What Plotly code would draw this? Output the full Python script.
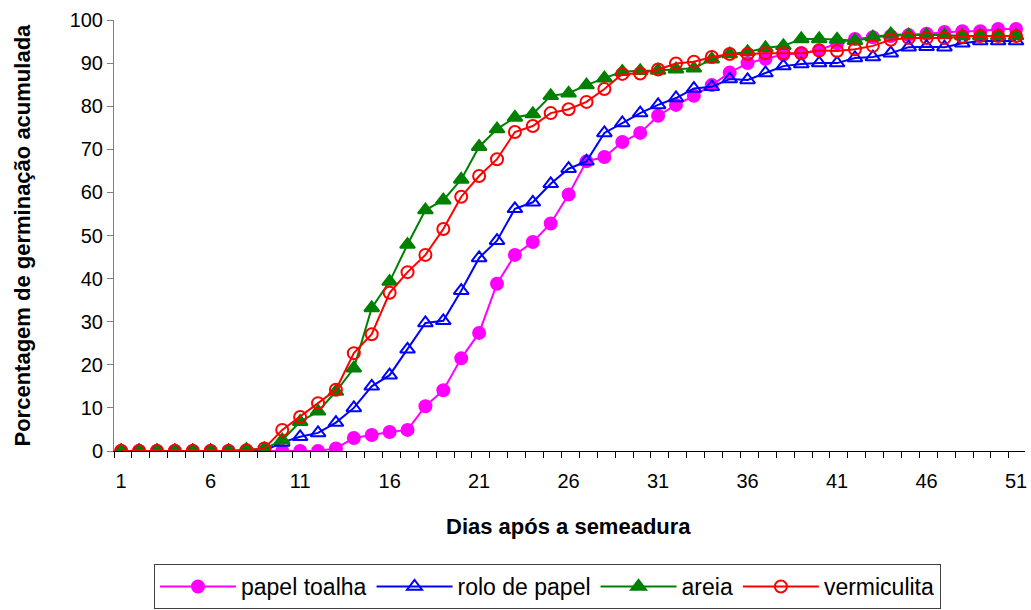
import numpy as np
import plotly.graph_objects as go

days = list(range(1, 52))

papel_toalha = [0, 0, 0, 0, 0, 0, 0, 0, 0, 0,
                0, 0, 0.6, 3, 3.7, 4.4, 4.9, 10.4, 14.1, 21.5,
                27.4, 38.8, 45.5, 48.5, 52.8, 59.5, 67.2, 68.2, 71.7, 73.8,
                77.8, 80.3, 82.4, 84.9, 87.8, 90, 91, 92, 92.3, 93,
                94.6, 95.6, 96, 96.3, 96.5, 96.8, 97.2, 97.4, 97.4, 97.9, 97.9]

rolo_de_papel = [0, 0, 0, 0, 0, 0, 0, 0, 0, 2,
                 3.3, 4.2, 6.6, 10, 15, 17.6, 23.6, 29.7, 30.2, 37.2,
                 44.8, 48.8, 56.2, 57.7, 62, 65.5, 67.2, 73.8, 76.1, 78.4,
                 80.3, 81.9, 84.1, 84.5, 86.3, 86.1, 87.7, 89.3, 89.8, 90,
                 90, 91.2, 91.4, 92.3, 93.7, 93.8, 93.7, 94.6, 95.1, 95.1, 95.1]

areia = [0, 0, 0, 0, 0, 0, 0, 0.3, 0.5, 2.5,
         6.8, 9.2, 13.8, 19.2, 33.2, 39.3, 47.9, 55.9, 58.2, 63,
         70.6, 74.7, 77.4, 78.2, 82.4, 83, 84.9, 86.5, 88, 88.2,
         88.3, 88.6, 88.8, 90.9, 92.1, 92.6, 93.5, 94, 95.6, 95.6,
         95.5, 95.2, 96, 96.7, 96.5, 96.5, 96.5, 96.3, 96.3, 96.3, 96.3]

vermiculita = [0, 0, 0, 0, 0, 0, 0, 0.2, 0.6, 4.9,
               7.9, 11.1, 14.2, 22.7, 27.1, 36.7, 41.5, 45.5, 51.5, 59,
               63.8, 67.7, 74, 75.4, 78.4, 79.3, 81, 84, 87.5, 87.6,
               88.5, 89.9, 90.3, 91.4, 92.1, 92.1, 92.3, 92.3, 92.3, 92.9,
               92.8, 93.2, 94, 95.4, 95.8, 95.8, 95.8, 96.1, 96.3, 96.3, 96.3]

x_ticks = [1, 6, 11, 16, 21, 26, 31, 36, 41, 46, 51]
y_ticks = [0, 10, 20, 30, 40, 50, 60, 70, 80, 90, 100]

FONT = "Liberation Sans, Arial, sans-serif"

fig = go.Figure()
series = [
    ("papel toalha", papel_toalha, "#FF00FF", "circle", 12),
    ("rolo de papel", rolo_de_papel, "#0000FF", "triangle-up-open", 13),
    ("areia", areia, "#008000", "triangle-up", 13),
    ("vermiculita", vermiculita, "#FF0000", "circle-open", 12),
]
for name, vals, color, sym, size in series:
    fig.add_trace(go.Scatter(
        x=days, y=vals, name=name, mode="lines+markers",
        line=dict(color=color, width=2),
        marker=dict(symbol=sym, size=size, color=color,
                    line=dict(color=color, width=2)),
    ))

minor_ticks = list(np.arange(0.6, 52, 1.0))

fig.update_layout(
    width=1031, height=610,
    margin=dict(l=114, r=6, t=20, b=159),
    paper_bgcolor="white", plot_bgcolor="white",
    font=dict(family=FONT, size=20, color="black"),
    showlegend=True,
    legend=dict(orientation="h", xref="container", yref="container",
                x=547.5 / 1031, xanchor="center", y=(610 - 564) / 610, yanchor="top",
                bordercolor="#404040", borderwidth=1, font=dict(size=23),
                itemwidth=76, tracegroupgap=0),
    xaxis=dict(range=[0.6, 51.5], tickvals=x_ticks, ticks="", showgrid=False,
               zeroline=False, showline=True, linecolor="black", linewidth=1,
               automargin=False,
               tickfont=dict(size=20), ticklabelstandoff=12,
               minor=dict(tickvals=minor_ticks, ticks="outside", ticklen=6,
                          tickcolor="black", showgrid=False)),
    yaxis=dict(range=[0, 100], tickvals=y_ticks, ticks="outside", ticklen=6,
               tickcolor="#808080", showgrid=False, zeroline=False,
               showline=True, linecolor="#808080", linewidth=1,
               automargin=False, tickfont=dict(size=20)),
    annotations=[
        dict(text="<b>Dias após a semeadura</b>", xref="paper", yref="paper",
             x=0.499, y=-0.176, xanchor="center", yanchor="middle",
             showarrow=False, font=dict(size=22)),
        dict(text="<b>Porcentagem de germinação acumulada</b>", xref="paper", yref="paper",
             x=(22 - 114) / 911, y=0.5, xanchor="center", yanchor="middle",
             textangle=-90, showarrow=False, font=dict(size=22)),
    ],
)

fig.write_html("out.html")
